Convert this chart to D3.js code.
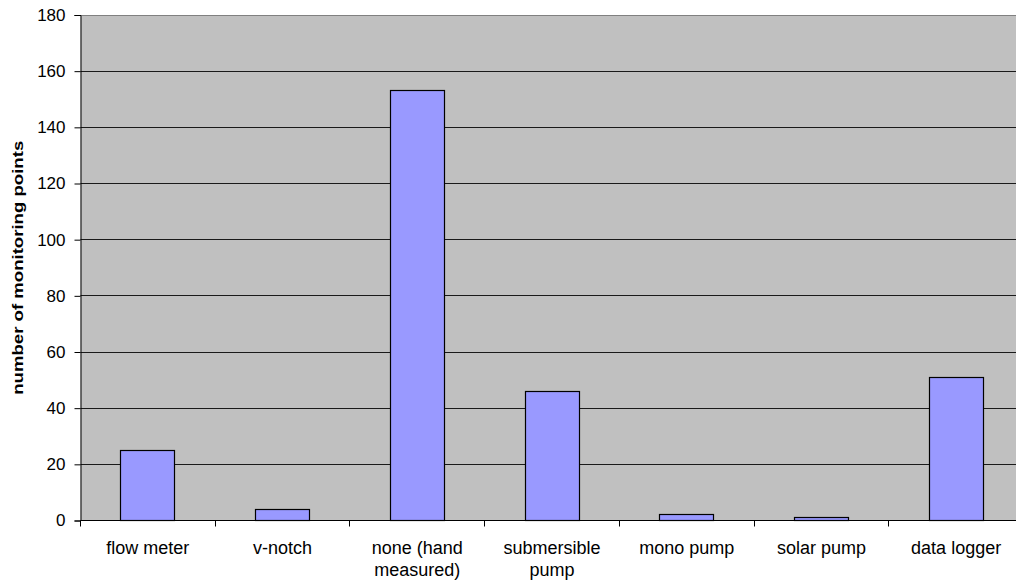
<!DOCTYPE html>
<html>
<head>
<meta charset="utf-8">
<script src="https://cdn.jsdelivr.net/npm/d3@7"></script>
<style>
  html, body { margin: 0; padding: 0; background: #ffffff; overflow: hidden; }
  svg { display: block; }
  text { font-family: "Liberation Sans", Arial, sans-serif; fill: #000; }
</style>
</head>
<body>
<svg id="chart" width="1016" height="583"></svg>
<script>
// Monitoring equipment types and number of monitoring points for each
const categories = [
  ["flow meter"],
  ["v-notch"],
  ["none (hand", "measured)"],
  ["submersible", "pump"],
  ["mono pump"],
  ["solar pump"],
  ["data logger"]
];
const counts = [25, 4, 153, 46, 2, 1, 51];
const yTicks = [0, 20, 40, 60, 80, 100, 120, 140, 160, 180];
const yTitle = "number of monitoring points";

const svg = d3.select("#chart");

// Plot area (the right edge runs a little past the visible page)
const plot = { left: 80.5, right: 1023.5, top: 15, bottom: 520.5 };

const keys = categories.map((c, i) => i);
const x = d3.scaleBand()
  .domain(keys)
  .range([plot.left, plot.right])
  .paddingInner(0.6)
  .paddingOuter(0.3);

const y = d3.scaleLinear()
  .domain([0, 180])
  .range([plot.bottom, plot.top]);

const crisp = v => Math.round(v - 0.5) + 0.5;

// Grey plot background
svg.append("rect")
  .attr("x", plot.left)
  .attr("y", y(180))
  .attr("width", plot.right - plot.left)
  .attr("height", y(0) - y(180))
  .attr("fill", "#c0c0c0");

// Horizontal gridlines
svg.append("g")
  .selectAll("line")
  .data(yTicks.filter(t => t > 0 && t < 180))
  .join("line")
  .attr("x1", plot.left)
  .attr("x2", plot.right)
  .attr("y1", d => crisp(y(d)))
  .attr("y2", d => crisp(y(d)))
  .attr("stroke", "#1a1a1a")
  .attr("stroke-width", 1);

// Top border of the plot area
svg.append("line")
  .attr("x1", plot.left)
  .attr("x2", plot.right)
  .attr("y1", crisp(y(180)))
  .attr("y2", crisp(y(180)))
  .attr("stroke", "#808080")
  .attr("stroke-width", 1);

// Bars
svg.append("g")
  .selectAll("rect")
  .data(counts)
  .join("rect")
  .attr("x", (d, i) => crisp(x(i)))
  .attr("y", d => crisp(y(d)))
  .attr("width", Math.round(x.bandwidth()))
  .attr("height", d => crisp(y(0)) - crisp(y(d)))
  .attr("fill", "#9999ff")
  .attr("stroke", "#000")
  .attr("stroke-width", 1.2);

// Y axis
const yAxis = d3.axisLeft(y)
  .tickValues(yTicks)
  .tickSize(6)
  .tickPadding(9)
  .tickFormat(d3.format("d"));

const gy = svg.append("g")
  .attr("transform", `translate(${crisp(plot.left)},0)`)
  .call(yAxis);
gy.select(".domain").attr("stroke", "#000");
gy.selectAll(".tick line").attr("stroke", "#000");
gy.selectAll(".tick text")
  .attr("font-size", "17px")
  .attr("font-family", "'Liberation Sans', Arial, sans-serif")
  .attr("fill", "#000");

// X axis baseline
svg.append("line")
  .attr("x1", plot.left)
  .attr("x2", plot.right)
  .attr("y1", crisp(y(0)))
  .attr("y2", crisp(y(0)))
  .attr("stroke", "#000")
  .attr("stroke-width", 1);

// X tick marks at category boundaries
const step = x.step();
const gap = step - x.bandwidth();
const boundaries = keys.map(i => x(i) - gap / 2).concat([x(keys.length - 1) + x.bandwidth() + gap / 2]);
svg.append("g")
  .selectAll("line")
  .data(boundaries)
  .join("line")
  .attr("x1", d => crisp(d))
  .attr("x2", d => crisp(d))
  .attr("y1", crisp(y(0)))
  .attr("y2", crisp(y(0)) + 6)
  .attr("stroke", "#000");

// X category labels (wrapped onto two lines where needed)
const labels = svg.append("g")
  .selectAll("text")
  .data(categories)
  .join("text")
  .attr("x", (d, i) => x(i) + x.bandwidth() / 2)
  .attr("y", 554)
  .attr("text-anchor", "middle")
  .attr("font-size", "18px");
labels.selectAll("tspan")
  .data((d, i) => d.map(line => ({ line, i })))
  .join("tspan")
  .attr("x", d => x(d.i) + x.bandwidth() / 2)
  .attr("dy", (d, j) => j === 0 ? 0 : 22)
  .text(d => d.line);

// Y axis title
svg.append("text")
  .attr("transform", `translate(22.5,${(plot.top + plot.bottom) / 2}) rotate(-90)`)
  .attr("text-anchor", "middle")
  .attr("font-size", "15px")
  .attr("font-weight", "bold")
  .attr("textLength", 254)
  .attr("lengthAdjust", "spacingAndGlyphs")
  .text(yTitle);
</script>
</body>
</html>
